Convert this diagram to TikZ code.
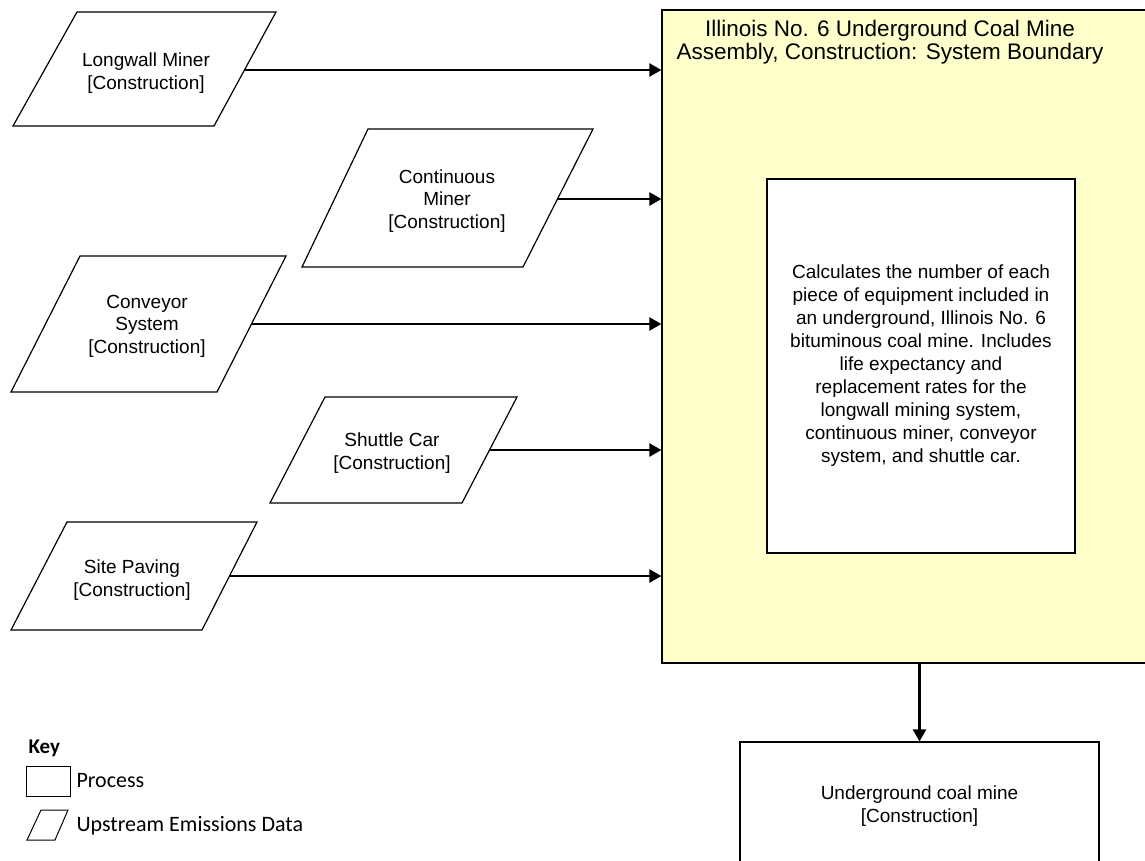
\documentclass[tikz,border=0pt]{standalone}
\usepackage{fontspec}
\setmainfont{Liberation Sans}
\newfontfamily\keyfont{Carlito}
\usetikzlibrary{arrows.meta}
\definecolor{boundaryfill}{RGB}{255,255,204}

\begin{document}
\begin{tikzpicture}[x=1pt, y=-1pt, font=\fontsize{19}{22.5}\selectfont]
                \clip (0,0) rectangle (1145,861);

                \tikzset{
                    inputline/.style = {draw, line width=1.2pt, line join=miter},
                    label/.style = {align=center},
                    process/.style = {draw, rectangle, line width=1.2pt, align=center, fill=white},
                    feed/.style = {-{Triangle[length=12pt, width=13pt]}, line width=2.4pt},
                    keytext/.style = {anchor=west, font=\keyfont\fontsize{22}{26}\selectfont},
                }

                % system boundary
                \node[process, fill=boundaryfill, minimum width=498pt, minimum height=653pt] (boundary) at (911,336.5) {};
                \node[font=\fontsize{22.5}{23.5}\selectfont, align=center] (title) at (890,42)
                {Illinois No. 6 Underground Coal Mine\\ Assembly, Construction: System Boundary};
                \node[process, minimum width=308pt, minimum height=374pt, font=\fontsize{19}{23}\selectfont] (calc) at (921,366)
                {Calculates the number of each\\ piece of equipment included in\\ an underground, Illinois No. 6\\
                    bituminous coal mine. Includes\\ life expectancy and\\ replacement rates for the\\
                    longwall mining system,\\ continuous miner, conveyor\\ system, and shuttle car.};

                % upstream data
                \draw[inputline] (13,126) -- (77,12) -- (276,12) -- (214,126) -- cycle;
                \node[label] (longwall) at (146,73) {Longwall Miner\\{}[Construction]};
                \coordinate (longwall-out) at (245,70);

                \draw[inputline] (302,267) -- (368,129) -- (593,129) -- (523,267) -- cycle;
                \node[label] (continuous) at (447,201) {Continuous\\ Miner\\{}[Construction]};
                \coordinate (continuous-out) at (558,199);

                \draw[inputline] (11,392) -- (80,256) -- (286,256) -- (217,392) -- cycle;
                \node[label] (conveyor) at (147,326) {Conveyor\\ System\\{}[Construction]};
                \coordinate (conveyor-out) at (251,324);

                \draw[inputline] (270,503) -- (325,397) -- (517,397) -- (462,503) -- cycle;
                \node[label] (shuttle) at (392,453) {Shuttle Car\\{}[Construction]};
                \coordinate (shuttle-out) at (490,450);

                \draw[inputline] (11,630) -- (67,522) -- (257,522) -- (202,630) -- cycle;
                \node[label] (paving) at (132,580) {Site Paving\\{}[Construction]};
                \coordinate (paving-out) at (230,576);

                \foreach \src in {longwall, continuous, conveyor, shuttle, paving}{
                        \draw[feed] (\src-out) -- (\src-out -| boundary.west);
                    }

                % product
                \node[process, minimum width=359pt, minimum height=128pt] (mine) at (919.5,806) {Underground coal mine\\{}[Construction]};
                \draw[feed] (mine.north |- boundary.south) -- (mine.north);

                % key
                \node[anchor=west, font=\keyfont\bfseries\fontsize{21}{24}\selectfont] (keytitle) at (25,748) {Key};
                \node[draw, line width=1pt, minimum width=44pt, minimum height=30pt] (keyprocess) at (48,781) {};
                \node[keytext] (keyprocesstext) at (73,781) {Process};
                \draw[line width=1pt] (27,840) -- (41,810) -- (68,810) -- (55,840) -- cycle;
                \node[keytext] (keyinputtext) at (73,826) {Upstream Emissions Data};

            \end{tikzpicture}
\end{document}
